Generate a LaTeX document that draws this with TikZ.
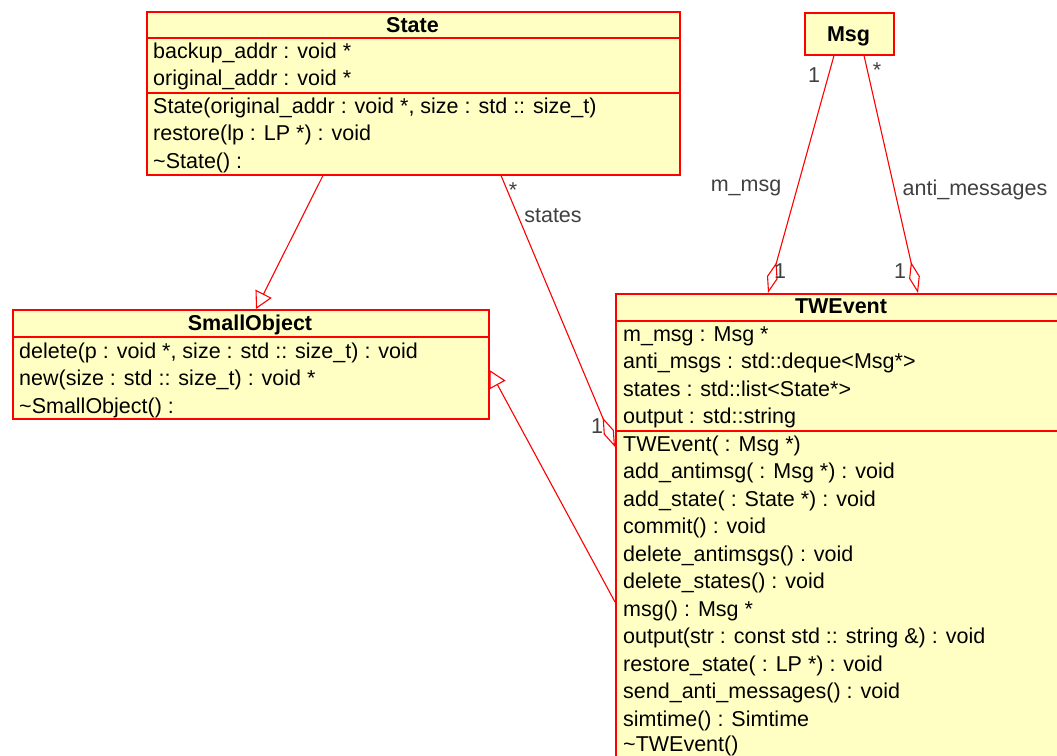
\documentclass[tikz,border=0pt]{standalone}
\usepackage{fontspec}
\setmainfont{Liberation Sans}
\usetikzlibrary{arrows.meta}
\definecolor{umlred}{RGB}{255,0,0}
\definecolor{umlfill}{RGB}{255,255,196}
\definecolor{lblgray}{RGB}{64,64,64}
\newcommand{\umlsize}{\fontsize{21.5}{27.5}\selectfont}

\begin{document}
\begin{tikzpicture}[x=1pt, y=-1pt,
    classbox/.style={draw=umlred, fill=umlfill, line width=1.5pt, inner sep=0pt, anchor=north west},
    sep/.style={draw=umlred, line width=1.5pt},
    member/.style={anchor=base west, inner sep=0pt, font=\umlsize},
    title/.style={anchor=base, inner sep=0pt, font=\umlsize\bfseries},
    link/.style={draw=umlred, line width=1.1pt},
    gen/.style={link, -{Triangle[open, length=17pt, width=18pt]}},
    aggr/.style={link, {Diamond[open, length=32pt, width=11pt]}-},
    lbl/.style={text=lblgray, inner sep=0pt, font=\umlsize}]
  \useasboundingbox (0,0) rectangle (1057,755);
  \clip (0,0) rectangle (1057,755);

  % State
  \node[classbox, minimum width=533pt, minimum height=163pt] (State) at (146,11) {};
  \draw[sep] (146,38) -- (679,38);
  \draw[sep] (146,93) -- (679,93);
  \node[title] (st-name) at (412.5,32) {State};
  \node[member] (st-a1) at (153,58) {backup\_addr : void *};
  \node[member] (st-a2) at (153,85.5) {original\_addr : void *};
  \node[member] (st-m1) at (153,113) {State(original\_addr : void *, size : std :: size\_t)};
  \node[member] (st-m2) at (153,140.5) {restore(lp : LP *) : void};
  \node[member] (st-m3) at (153,168) {\textasciitilde State() :};

  % Msg
  \node[classbox, minimum width=89pt, minimum height=42pt] (Msg) at (804,12) {};
  \node[title] (msg-name) at (848.5,41) {Msg};

  % SmallObject
  \node[classbox, minimum width=476pt, minimum height=109pt] (SmallObject) at (12,309) {};
  \draw[sep] (12,337) -- (488,337);
  \node[title] (so-name) at (250,330) {SmallObject};
  \node[member] (so-m1) at (19,358) {delete(p : void *, size : std :: size\_t) : void};
  \node[member] (so-m2) at (19,385.5) {new(size : std :: size\_t) : void *};
  \node[member] (so-m3) at (19,413) {\textasciitilde SmallObject() :};

  % TWEvent, runs off the page
  \node[classbox, minimum width=452pt, minimum height=480pt] (TWEvent) at (615,293) {};
  \draw[sep] (615,321) -- (1067,321);
  \draw[sep] (615,431) -- (1067,431);
  \node[title] (tw-name) at (841,313) {TWEvent};
  \node[member] (tw-a1) at (623,341) {m\_msg : Msg *};
  \node[member] (tw-a2) at (623,368.5) {anti\_msgs : std::deque<Msg*>};
  \node[member] (tw-a3) at (623,396) {states : std::list<State*>};
  \node[member] (tw-a4) at (623,423.5) {output : std::string};
  \node[member] (tw-m1) at (623,451) {TWEvent( : Msg *)};
  \node[member] (tw-m2) at (623,478.5) {add\_antimsg( : Msg *) : void};
  \node[member] (tw-m3) at (623,506) {add\_state( : State *) : void};
  \node[member] (tw-m4) at (623,533.5) {commit() : void};
  \node[member] (tw-m5) at (623,561) {delete\_antimsgs() : void};
  \node[member] (tw-m6) at (623,588.5) {delete\_states() : void};
  \node[member] (tw-m7) at (623,616) {msg() : Msg *};
  \node[member] (tw-m8) at (623,643.5) {output(str : const std :: string \&) : void};
  \node[member] (tw-m9) at (623,671) {restore\_state( : LP *) : void};
  \node[member] (tw-m10) at (623,698.5) {send\_anti\_messages() : void};
  \node[member] (tw-m11) at (623,726) {simtime() : Simtime};
  \node[member] (tw-m12) at (623,751) {\textasciitilde TWEvent()};

  % inheritance
  \draw[gen] ([xshift=177pt]State.south west) -- ([xshift=244pt]SmallObject.north west);
  \draw[gen] ([yshift=-309pt]TWEvent.north west) -- ([yshift=-61pt]SmallObject.north east);

  % aggregations
  \draw[aggr] ([yshift=-154pt]TWEvent.north west) -- ([xshift=355pt]State.south west);
  \draw[aggr] ([xshift=153pt]TWEvent.north west) -- ([xshift=30pt]Msg.south west);
  \draw[aggr] ([xshift=303pt]TWEvent.north west) -- ([xshift=60pt]Msg.south west);

  % roles and multiplicities
  \node[lbl] (st-many) at (513,190) {*};
  \node[lbl] (st-role) at (553,216) {states};
  \node[lbl] (st-one) at (597,426) {1};
  \node[lbl] (mm-one) at (814,75) {1};
  \node[lbl] (mm-role) at (746,188) {m\_msg};
  \node[lbl] (mm-own) at (780,271) {1};
  \node[lbl] (am-many) at (877,70) {*};
  \node[lbl] (am-role) at (975,190) {anti\_messages};
  \node[lbl] (am-own) at (900,271) {1};
\end{tikzpicture}
\end{document}
